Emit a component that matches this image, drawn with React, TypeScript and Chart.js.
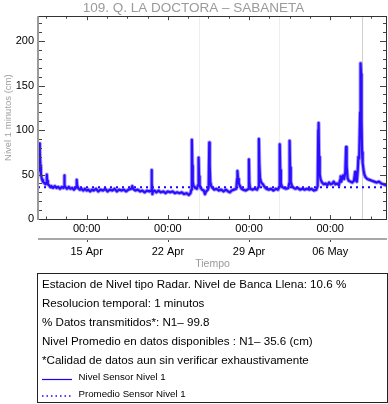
import React, { useEffect, useRef } from "react";
import { Chart, registerables } from "chart.js";

Chart.register(...registerables);

const TITLE = "109. Q. LA DOCTORA – SABANETA";
const Y_TITLE = "Nivel 1 minutos (cm)";
const X_TITLE = "Tiempo";

// x values are days since 15 Apr 00:00
const X_MIN = -4.2;
const X_MAX = 25.9;
const dayTicks = [0, 7, 14, 21];
const timeLabels = ["00:00", "00:00", "00:00", "00:00"];
const dateLabels = ["15 Apr", "22 Apr", "29 Apr", "06 May"];
const minorTickStep = 1.75;

const Y_MIN = 0;
const Y_MAX = 228;
const yTicks = [0, 50, 100, 150, 200];
const yMinorStep = 10;

const meanLevel = 35.6;
const markerDays = [9.69, 16.57, 23.72];

const times = [
  -4.2, -4.15, -4.1, -4.06, -4.03, -3.99, -3.95, -3.9, -3.84, -3.78, -3.7, -3.62, -3.55, -3.48, -3.44, -3.41,
  -3.35, -3.25, -3.15, -3.05, -2.9, -2.75, -2.6, -2.45, -2.3, -2.15, -2.0, -1.95, -1.93, -1.9, -1.84, -1.7,
  -1.55, -1.4, -1.25, -1.1, -0.95, -0.88, -0.86, -0.83, -0.75, -0.6, -0.45, -0.3, -0.15, 0.0,
  0.15, 0.3, 0.45, 0.6, 0.8, 1.0, 1.2, 1.4, 1.6, 1.8, 2.0, 2.2, 2.4, 2.6, 2.8, 3.0, 3.2, 3.4, 3.6, 3.85, 3.93,
  4.0, 4.2, 4.4, 4.6, 4.8, 5.0, 5.2, 5.4, 5.55, 5.59, 5.63, 5.67, 5.72, 5.85, 6.0, 6.2, 6.4, 6.6, 6.8, 7.0,
  7.2, 7.4, 7.6, 7.8, 8.0, 8.2, 8.4, 8.6, 8.8, 8.95, 9.02, 9.07, 9.11, 9.15, 9.22, 9.35, 9.5, 9.6, 9.65,
  9.69, 9.74, 9.82, 9.95, 10.1, 10.2, 10.3, 10.45, 10.52, 10.57, 10.61, 10.66, 10.74, 10.85, 11.0, 11.2,
  11.4, 11.6, 11.8, 12.0, 12.2, 12.35, 12.5, 12.7, 12.9, 12.97, 13.0, 13.05, 13.12, 13.22, 13.35, 13.5,
  13.7, 13.85, 13.95, 13.99, 14.03, 14.1, 14.3, 14.5, 14.7, 14.8, 14.85, 14.89, 14.95, 15.05, 15.2, 15.35,
  15.5, 15.7, 15.9, 16.1, 16.3, 16.5, 16.6, 16.65, 16.69, 16.75, 16.85, 17.0, 17.2, 17.4, 17.46, 17.5,
  17.54, 17.6, 17.7, 17.85, 18.0, 18.2, 18.4, 18.6, 18.8, 19.0, 19.2, 19.4, 19.6, 19.8, 19.92, 19.97,
  20.0, 20.04, 20.1, 20.18, 20.3, 20.45, 20.6, 20.75, 20.9, 21.05, 21.2, 21.3, 21.45, 21.6, 21.75, 21.85,
  21.9, 21.96, 22.05, 22.12, 22.2, 22.3, 22.37, 22.42, 22.5, 22.6, 22.75, 22.9, 23.05, 23.12, 23.15, 23.2,
  23.3, 23.38, 23.43, 23.5, 23.58, 23.62, 23.66, 23.7, 23.75, 23.8, 23.88, 23.95, 24.05, 24.2, 24.4, 24.6,
  24.8, 25.0, 25.2, 25.4, 25.6, 25.8, 25.9,
];

const levels = [
  54, 58, 63, 85, 74, 60, 51, 47, 44, 42, 41, 40, 39, 41, 50, 43,
  39, 38, 36, 37, 35, 37, 35, 36, 34, 36, 35, 36, 49, 38, 36, 34,
  36, 34, 35, 33, 35, 36, 44, 38, 35, 33, 34, 32, 34, 32,
  33, 31, 33, 32, 34, 31, 33, 32, 34, 31, 33, 32, 34, 31, 33, 32, 33, 31, 33, 34, 37,
  34, 32, 33, 31, 32, 30, 32, 31, 32, 55, 40, 28, 31, 32, 30, 32, 30, 31, 29, 31,
  30, 31, 29, 30, 29, 30, 28, 29, 27, 29, 33, 89, 60, 42, 37, 35, 34, 38, 69,
  48, 38, 35, 33, 32, 28, 31, 33, 36, 86, 60, 42, 37, 35, 33, 34,
  32, 33, 31, 33, 31, 30, 32, 33, 34, 45, 54, 45, 40, 37, 34, 33,
  32, 33, 34, 67, 40, 34, 33, 34, 33, 36, 90, 62, 46, 41, 39, 36,
  34, 33, 34, 32, 34, 33, 36, 84, 55, 40, 36, 35, 34, 35, 40, 88,
  58, 42, 37, 35, 34, 35, 33, 34, 33, 34, 33, 34, 32, 33, 37, 100,
  108, 70, 50, 44, 41, 39, 40, 38, 41, 39, 40, 42, 39, 40, 38, 44,
  48, 42, 47, 49, 45, 52, 81, 60, 46, 43, 42, 41, 43, 50, 53, 44,
  42, 55, 70, 68, 120, 175, 163, 110, 75, 63, 55, 50, 47, 45, 44, 43,
  42, 41, 42, 40, 39, 38, 39,
];

const infoLines = [
  "Estacion de Nivel tipo Radar. Nivel de Banca Llena: 10.6 %",
  "Resolucion temporal: 1 minutos",
  "% Datos transmitidos*: N1\u2013 99.8",
  "Nivel Promedio en datos disponibles : N1\u2013 35.6 (cm)",
  "*Calidad de datos aun sin verificar exhaustivamente",
];
const legendLabels = ["Nivel Sensor Nivel 1", "Promedio Sensor Nivel 1"];

const FONT = "'Liberation Sans', Arial, Helvetica, sans-serif";
const BLUE = "rgb(30,0,255)";

const decorPlugin = {
  id: "decor",
  beforeDatasetsDraw(chart: any) {
    const { ctx, chartArea: a, scales } = chart;
    const x = scales.x;
    ctx.save();
    markerDays.forEach((d, i) => {
      const px = Math.round(x.getPixelForValue(d)) + 0.5;
      ctx.strokeStyle = i === markerDays.length - 1 ? "#cfcfcf" : "#eeeeee";
      ctx.lineWidth = 1;
      ctx.beginPath();
      ctx.moveTo(px, a.top);
      ctx.lineTo(px, a.bottom);
      ctx.stroke();
    });
    ctx.restore();
  },
  afterDatasetsDraw(chart: any) {
    const { ctx, chartArea: a, scales } = chart;
    const x = scales.x;
    const y = scales.y;
    ctx.save();
    // y ticks (inward, both sides)
    ctx.strokeStyle = "#444";
    ctx.lineWidth = 1;
    for (let v = Y_MIN; v <= Y_MAX; v += yMinorStep) {
      const py = Math.round(y.getPixelForValue(v)) + 0.5;
      const major = yTicks.includes(v);
      const len = major ? 7 : 4;
      ctx.beginPath();
      ctx.moveTo(a.left, py);
      ctx.lineTo(a.left + len, py);
      ctx.moveTo(a.right, py);
      ctx.lineTo(a.right - len, py);
      ctx.stroke();
    }
    // x ticks (inward, top and bottom)
    const start = dayTicks[0] - Math.ceil((dayTicks[0] - X_MIN) / minorTickStep) * minorTickStep;
    for (let d = start; d <= X_MAX; d += minorTickStep) {
      if (d < X_MIN) continue;
      const px = Math.round(x.getPixelForValue(d)) + 0.5;
      const major = dayTicks.some((t) => Math.abs(t - d) < 1e-6);
      const len = major ? 4 : 2.5;
      ctx.beginPath();
      ctx.moveTo(px, a.bottom);
      ctx.lineTo(px, a.bottom - len);
      ctx.moveTo(px, a.top);
      ctx.lineTo(px, a.top + len);
      ctx.stroke();
    }
    // frame
    ctx.strokeStyle = "#333";
    ctx.lineWidth = 1;
    ctx.beginPath();
    ctx.moveTo(a.left, Math.round(a.top) + 0.5);
    ctx.lineTo(a.right, Math.round(a.top) + 0.5);
    ctx.moveTo(Math.round(a.right) - 0.5, a.top);
    ctx.lineTo(Math.round(a.right) - 0.5, a.bottom);
    ctx.moveTo(a.left, Math.round(a.bottom) + 0.5);
    ctx.lineTo(a.right, Math.round(a.bottom) + 0.5);
    ctx.stroke();
    ctx.strokeStyle = "#9a9a9a";
    ctx.lineWidth = 2;
    ctx.beginPath();
    ctx.moveTo(Math.round(a.left), a.top);
    ctx.lineTo(Math.round(a.left), a.bottom + 1);
    ctx.stroke();

    // separator line between time row and date row
    const sepY = x.top + 20;
    ctx.strokeStyle = "#a8a8a8";
    ctx.lineWidth = 2;
    ctx.beginPath();
    ctx.moveTo(a.left, sepY);
    ctx.lineTo(a.right, sepY);
    ctx.stroke();
    ctx.strokeStyle = "#444";
    ctx.lineWidth = 1;
    dayTicks.forEach((d) => {
      const px = Math.round(x.getPixelForValue(d)) + 0.5;
      ctx.beginPath();
      ctx.moveTo(px, sepY + 1);
      ctx.lineTo(px, sepY + 3);
      ctx.stroke();
    });

    // info / legend box
    const boxL = Math.round(a.left) - 0.5;
    const boxT = Math.round(x.bottom) - 0.5;
    const boxR = Math.round(a.right) + 0.5;
    const boxB = chart.height - 1.5;
    ctx.strokeStyle = "#222";
    ctx.lineWidth = 1;
    ctx.strokeRect(boxL, boxT, boxR - boxL, boxB - boxT);
    ctx.fillStyle = "#000";
    ctx.textBaseline = "middle";
    ctx.textAlign = "left";
    ctx.font = `11.6px ${FONT}`;
    infoLines.forEach((t, i) => {
      ctx.fillText(t, boxL + 4.5, boxT + 11.5 + i * 19);
    });
    ctx.font = `9.7px ${FONT}`;
    const legY0 = boxT + 104;
    legendLabels.forEach((t, i) => {
      const ly = legY0 + i * 16.5;
      ctx.strokeStyle = BLUE;
      ctx.lineWidth = i === 0 ? 1.2 : 1.5;
      ctx.setLineDash(i === 0 ? [] : [1.5, 3]);
      ctx.beginPath();
      ctx.moveTo(boxL + 4.5, ly + 2);
      ctx.lineTo(boxL + 34.5, ly + 2);
      ctx.stroke();
      ctx.setLineDash([]);
      ctx.fillText(t, boxL + 41, ly);
    });
    ctx.restore();
  },
};

export default function App() {
  const ref = useRef<HTMLCanvasElement | null>(null);
  useEffect(() => {
    if (!ref.current) return;
    Chart.defaults.font.family = FONT;
    const pts = times.map((t, i) => ({ x: t, y: levels[i] }));
    const chart = new Chart(ref.current, {
      type: "line",
      data: {
        datasets: [
          {
            data: pts,
            borderColor: "rgba(60,30,255,0.45)",
            borderWidth: 4,
            borderJoinStyle: "round",
            pointRadius: 0,
            tension: 0,
          },
          {
            data: pts,
            borderColor: BLUE,
            borderWidth: 2.2,
            borderJoinStyle: "round",
            pointRadius: 0,
            tension: 0,
          },
          {
            data: [
              { x: X_MIN, y: meanLevel },
              { x: X_MAX, y: meanLevel },
            ],
            borderColor: BLUE,
            borderWidth: 2,
            borderDash: [2, 4],
            pointRadius: 0,
          },
        ],
      },
      options: {
        responsive: false,
        animation: false,
        events: [],
        layout: { padding: { left: 0, right: 1, top: 0, bottom: 404 - 274 } },
        plugins: {
          legend: { display: false },
          tooltip: { enabled: false },
          title: {
            display: true,
            text: TITLE,
            color: "#9a9a9a",
            font: { size: 13.5, weight: "normal" },
            padding: { top: 0, bottom: 0 },
          },
        },
        scales: {
          x: {
            type: "linear",
            min: X_MIN,
            max: X_MAX,
            afterBuildTicks: (s: any) => {
              s.ticks = dayTicks.map((v) => ({ value: v }));
            },
            afterFit: (s: any) => {
              s.height = 55;
            },
            grid: { display: false, drawTicks: false },
            border: { display: false },
            ticks: {
              color: "#000",
              font: { size: 11, lineHeight: 23 / 11 },
              padding: -1.5,
              maxRotation: 0,
              autoSkip: false,
              callback: (_v: any, i: number) => [timeLabels[i], dateLabels[i]],
            },
            title: {
              display: true,
              text: X_TITLE,
              color: "#9a9a9a",
              font: { size: 10.5 },
              padding: { top: 0, bottom: 3.7 },
            },
          },
          y: {
            min: Y_MIN,
            max: Y_MAX,
            afterBuildTicks: (s: any) => {
              s.ticks = yTicks.map((v) => ({ value: v }));
            },
            afterFit: (s: any) => {
              s.width = 38;
            },
            grid: { display: false, drawTicks: false },
            border: { display: false },
            ticks: { color: "#000", font: { size: 11 }, padding: 4 },
            title: {
              display: true,
              text: Y_TITLE,
              color: "#a0a0a0",
              font: { size: 9.5 },
              padding: { top: 2.6, bottom: 0 },
            },
          },
        },
      },
      plugins: [decorPlugin],
    } as any);
    return () => chart.destroy();
  }, []);
  return (
    <div style={{ position: "absolute", left: 0, top: 0, width: 388, height: 404, background: "#fff" }}>
      <canvas ref={ref} width={388} height={404} style={{ display: "block" }} />
    </div>
  );
}
